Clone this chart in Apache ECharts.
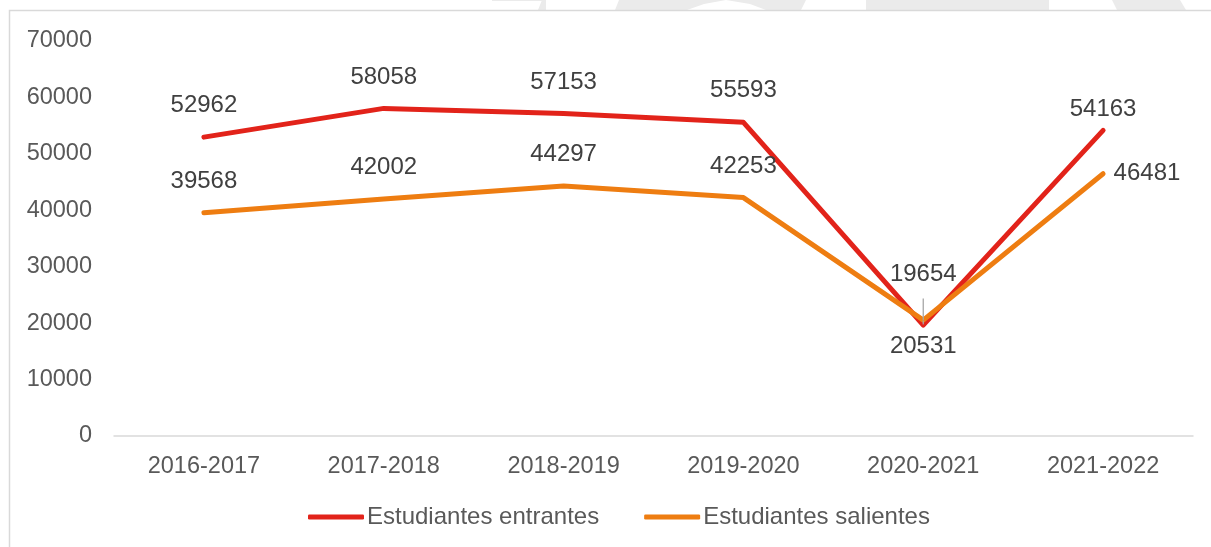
<meta charset="UTF-8"/>
<style type="text/css">
	html, body { margin:0; padding:0; background:#fff; }
	#chart { width:1211px; height:547px; }
</style>
<div id="chart"></div>
<script src="https://cdn.jsdelivr.net/npm/echarts@6/dist/echarts.min.js"></script>
<script type="text/javascript">

var categories = ['2016-2017', '2017-2018', '2018-2019', '2019-2020', '2020-2021', '2021-2022'];
var entrantes = [52962, 58058, 57153, 55593, 19654, 54163];
var salientes = [39568, 42002, 44297, 42253, 20531, 46481];
var yTicks = { min: 0, max: 70000, interval: 10000 };

var red = '#E2231A';
var orange = '#EE7D11';
var labelFont = { fontFamily: 'Liberation Sans, Arial, sans-serif', fontSize: 24, color: '#404040' };

// etiquetas de entrantes: la de 2020-2021 va arriba con línea guía, la última más pegada
var redData = entrantes.map(function(v, i){
	var item = { value: v };
	if(i === 4){
		item.label = { distance: 38 };
		item.labelLine = { show: true, lineStyle: { color: '#a6a6a6', width: 1.3 } };
	}
	if(i === 5){
		item.label = { distance: 8 };
	}
	return item;
});
// etiquetas de salientes: 2020-2021 debajo, la última a la derecha
var orangeData = salientes.map(function(v, i){
	var item = { value: v };
	if(i === 4){
		item.label = { position: 'bottom', distance: 14 };
	}
	if(i === 5){
		item.label = { position: 'right', distance: 10 };
	}
	return item;
});

var myChart = echarts.init(document.getElementById('chart'));
var option = {
	backgroundColor: '#fff',
	animation: false,
	textStyle: { fontFamily: 'Liberation Sans, Arial, sans-serif' },
	graphic: [
		// marca de agua cortada arriba
		{ type: 'polygon', silent: true, z: -1, shape: { points: [[538,10],[542,0],[546,0],[546,10]] }, style: { fill: '#ebebeb' } },
		{ type: 'rect', silent: true, z: -1, shape: { x: 492, y: 0, width: 54, height: 1 }, style: { fill: '#ebebeb' } },
		{ type: 'polygon', silent: true, z: -1, shape: { points: [[615,10],[619,0],[806,0],[801,10],[766,10],[750,4],[726,0],[704,4],[687,10]] }, style: { fill: '#ebebeb' } },
		{ type: 'rect', silent: true, z: -1, shape: { x: 866, y: 0, width: 183, height: 10 }, style: { fill: '#ebebeb' } },
		{ type: 'polygon', silent: true, z: -1, shape: { points: [[1112,0],[1180,0],[1186,10],[1117,10]] }, style: { fill: '#ebebeb' } },
		// marco del gráfico
		{ type: 'rect', silent: true, z: 0, shape: { x: 9.5, y: 10.5, width: 1250, height: 600 }, style: { fill: null, stroke: '#d9d9d9', lineWidth: 1.5 } }
	],
	grid: {
		left: 114,
		right: 18,
		top: 41,
		bottom: 111,
		containLabel: false
	},
	legend: {
		left: 308,
		top: 505,
		padding: 0,
		itemGap: 45,
		itemWidth: 56,
		itemHeight: 5,
		icon: 'roundRect',
		textStyle: { fontSize: 24, color: '#595959', padding: [0, 0, 0, -2] },
		data: ['Estudiantes entrantes', 'Estudiantes salientes']
	},
	xAxis: {
		type: 'category',
		data: categories,
		boundaryGap: true,
		axisLine: { show: true, lineStyle: { color: '#d9d9d9', width: 1.5 } },
		axisTick: { show: false },
		axisLabel: { fontSize: 23.5, color: '#595959', margin: 19 },
		splitLine: { show: false }
	},
	yAxis: {
		type: 'value',
		min: yTicks.min,
		max: yTicks.max,
		interval: yTicks.interval,
		axisLine: { show: false },
		axisTick: { show: false },
		axisLabel: {
			fontSize: 23.5,
			color: '#595959',
			margin: 22,
			formatter: function(v){ return String(v); }
		},
		splitLine: { show: false }
	},
	series: [
		{
			name: 'Estudiantes entrantes',
			type: 'line',
			data: redData,
			symbol: 'circle',
			symbolSize: 1,
			showSymbol: true,
			itemStyle: { color: red },
			lineStyle: { color: red, width: 5, cap: 'round', join: 'round' },
			label: {
				show: true,
				position: 'top',
				distance: 19,
				fontFamily: labelFont.fontFamily,
				fontSize: labelFont.fontSize,
				color: labelFont.color
			}
		},
		{
			name: 'Estudiantes salientes',
			type: 'line',
			data: orangeData,
			symbol: 'circle',
			symbolSize: 1,
			showSymbol: true,
			itemStyle: { color: orange },
			lineStyle: { color: orange, width: 5, cap: 'round', join: 'round' },
			label: {
				show: true,
				position: 'top',
				distance: 19,
				fontFamily: labelFont.fontFamily,
				fontSize: labelFont.fontSize,
				color: labelFont.color
			}
		}
	]
};
myChart.setOption(option);
</script>
